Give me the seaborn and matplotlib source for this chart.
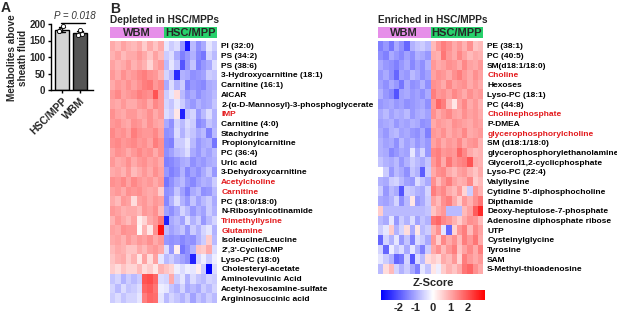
import numpy as np
import pandas as pd
import matplotlib
matplotlib.use("Agg")
import matplotlib.pyplot as plt
import seaborn as sns
from matplotlib.colors import ListedColormap

sns.set_theme(style="white")
plt.rcParams['font.family'] = ['Liberation Sans', 'DejaVu Sans']
plt.rcParams['font.weight'] = 'bold'
plt.rcParams['axes.unicode_minus'] = False

# ---------------- data ----------------
groups_A = ["HSC/MPP", "WBM"]
hsc_points = [193, 181, 178, 180]
wbm_points = [183, 171, 167, 170]
p_text = "P = 0.018"

group_labels = ["WBM", "HSC/MPP"]
n_wbm = 10
n_hsc = 10

depleted_rows = ["PI (32:0)", "PS (34:2)", "PS (38:6)", "3-Hydroxycarnitine (18:1)",
                 "Carnitine (16:1)", "AICAR", "2-(α-D-Mannosyl)-3-phosphoglycerate", "IMP",
                 "Carnitine (4:0)", "Stachydrine", "Propionylcarnitine", "PC (36:4)",
                 "Uric acid", "3-Dehydroxycarnitine", "Acetylcholine", "Carnitine",
                 "PC (18:0/18:0)", "N-Ribosylnicotinamide", "Trimethyllysine", "Glutamine",
                 "Isoleucine/Leucine", "2',3'-CyclicCMP", "Lyso-PC (18:0)", "Cholesteryl-acetate",
                 "Aminolevulinic Acid", "Acetyl-hexosamine-sulfate", "Argininosuccinic acid"]
depleted_red = ["IMP", "Acetylcholine", "Carnitine", "Trimethyllysine", "Glutamine"]

depleted_values = [
    [1.0, 0.8, 1.1, 0.9, 0.8, 1.0, 0.6, 1.0, 0.7, 1.0, -0.3, -0.6, -0.4, -1.2, -2.8, -0.8, -1.3, -1.0, -0.3, -0.6],
    [0.9, 1.1, 0.8, 1.0, 1.0, 1.2, 1.0, 0.7, 1.1, 0.8, -0.6, -0.4, -1.0, -1.5, -1.2, -0.9, -1.4, -1.6, -0.5, -0.8],
    [1.1, 0.9, 1.0, 1.2, 0.9, 1.1, 0.9, 0.5, 1.0, 1.2, -0.8, -0.3, -0.7, -2.0, -1.2, -0.7, -1.5, -1.2, -1.0, -0.4],
    [1.2, 1.0, 1.3, 1.1, 1.2, 1.4, 1.5, 1.3, 1.2, 0.9, -0.5, -0.8, -2.5, -0.9, -1.0, -1.3, -1.2, -1.1, -0.6, -0.7],
    [1.0, 1.2, 1.1, 1.3, 1.1, 1.3, 1.5, 1.6, 1.2, 1.4, -1.0, -0.4, -0.9, -0.6, -1.5, -1.2, -1.3, -1.4, -1.0, -0.9],
    [1.2, 1.4, 1.1, 1.2, 1.3, 1.5, 1.4, 1.3, 2.0, 1.2, -0.6, -0.3, 0.4, -0.8, -1.2, -1.0, -1.3, -1.1, -1.0, -0.8],
    [1.1, 1.0, 1.2, 1.0, 1.0, 1.2, 1.3, 1.0, 1.4, 1.2, -0.5, -0.7, -0.3, -0.6, -1.0, -1.2, -0.9, -1.1, -1.0, -0.7],
    [1.3, 1.1, 1.0, 1.2, 1.2, 1.0, 1.1, 1.3, 1.0, 1.2, -0.4, -0.6, 0.3, -2.6, -0.7, -0.5, -1.2, -0.8, -0.4, -0.9],
    [1.2, 1.3, 1.1, 1.0, 1.3, 1.2, 1.0, 1.3, 1.1, 1.0, -1.0, -1.3, -0.5, -0.8, -0.4, -0.6, -1.4, -1.2, -0.7, -0.9],
    [1.4, 1.2, 1.3, 1.1, 1.5, 1.3, 1.2, 1.2, 1.4, 1.1, -1.3, -1.2, -0.4, -0.9, -0.5, -0.7, -1.0, -0.8, -1.5, -0.8],
    [1.3, 1.4, 1.2, 1.3, 1.4, 1.2, 1.3, 1.1, 1.5, 1.3, -1.4, -1.5, -0.6, -0.6, -0.3, -0.8, -1.2, -1.0, -0.9, -1.6],
    [1.1, 1.3, 1.2, 1.0, 1.2, 1.4, 1.2, 1.3, 1.0, 1.3, -1.3, -1.1, -0.8, -0.7, -0.4, -1.0, -1.2, -0.9, -1.1, -0.8],
    [1.2, 1.0, 1.1, 1.3, 1.0, 1.2, 1.3, 1.1, 1.2, 1.0, -1.5, -1.4, -1.2, -1.0, -0.9, -1.3, -1.1, -1.2, -1.0, -0.9],
    [1.0, 1.1, 0.9, 1.2, 0.8, 1.0, 1.2, 1.0, 1.3, 1.1, -1.2, -1.5, -1.3, -0.9, -1.4, -1.1, -1.3, -1.0, -0.7, -1.2],
    [1.3, 1.2, 1.4, 1.1, 1.4, 1.2, 1.1, 1.2, 1.0, 1.2, -1.6, -1.3, -1.0, -0.8, -1.2, -1.4, -1.1, -0.9, -1.0, -0.6],
    [1.1, 1.2, 1.0, 1.3, 1.2, 1.3, 1.1, 1.0, 1.1, 0.6, -1.3, -1.2, -0.7, -1.1, -1.5, -1.0, -0.8, -1.3, -1.2, -0.8],
    [1.0, 0.8, 1.2, 1.1, 0.4, 1.1, 1.2, 1.0, 1.2, 1.1, -1.4, -0.9, -0.4, -0.9, -1.2, -0.7, -1.1, -0.8, -0.6, -1.0],
    [1.2, 1.1, 0.9, 1.0, 1.0, 0.8, 1.2, 1.1, 1.3, 0.8, -1.1, -1.3, -1.0, -0.5, -0.8, -1.2, -0.9, -1.1, -0.6, -0.9],
    [0.9, 1.2, 1.0, 0.8, 1.1, 0.2, 0.5, 1.0, 1.2, 1.6, -2.6, -1.0, -0.8, -1.1, -0.4, -0.9, -0.6, -1.2, -0.8, -0.5],
    [1.1, 1.0, 1.3, 1.2, 1.2, 0.1, 0.9, 0.3, 1.3, 2.8, -0.8, -1.1, -0.9, -0.7, -1.2, -0.6, -0.9, -0.5, -0.3, -0.9],
    [1.0, 1.1, 0.9, 1.2, 1.0, 1.2, 1.1, 1.3, 1.0, 1.2, -1.2, -1.3, -1.2, -1.4, -1.2, -1.3, -0.9, -0.6, 0.6, -0.8],
    [0.8, 1.0, 0.9, 0.7, 0.7, 1.0, 0.8, 1.1, 1.2, 1.0, -0.4, -1.2, 0.2, -1.6, -1.3, -0.9, 0.7, 0.6, 1.0, -0.4],
    [0.7, 0.9, 1.0, 0.6, 0.9, 0.3, 1.1, 0.4, 1.1, -0.3, -0.8, -0.6, -0.9, -1.1, -1.3, -2.6, -0.5, -0.2, -0.6, -0.2],
    [0.6, 0.4, 0.7, 0.5, 0.5, 0.8, 0.4, 0.6, 0.3, 0.9, 0.7, 0.5, -0.2, -0.4, -0.2, -0.3, 0.2, -0.6, -3.0, -0.4],
    [-0.7, -0.5, -0.9, -0.6, -0.8, -0.6, 2.0, 2.1, 1.8, -0.4, -0.5, 1.0, -0.6, -0.3, -0.9, -0.4, -0.7, -0.8, -0.5, -0.6],
    [-0.5, -0.8, -0.4, -0.7, -0.6, -0.4, 1.8, 1.9, 1.6, -0.2, -0.3, -0.7, -0.9, -0.5, -1.0, -0.8, -1.0, -0.6, -0.8, -0.5],
    [-0.6, -0.4, -0.7, -0.5, -0.5, -0.3, 1.5, 1.8, 1.7, -0.3, -0.8, -0.5, -0.7, -0.9, -0.6, -1.1, -0.7, -0.9, -0.6, -0.8],
]

enriched_rows = ["PE (38:1)", "PC (40:5)", "SM(d18:1/18:0)", "Choline", "Hexoses", "Lyso-PC (18:1)",
                 "PC (44:8)", "Cholinephosphate", "P-DMEA", "glycerophosphorylcholine",
                 "SM (d18:1/18:0)", "glycerophosphorylethanolamine", "Glycerol1,2-cyclicphosphate",
                 "Lyso-PC (22:4)", "Valyllysine", "Cytidine 5'-diphosphocholine", "Dipthamide",
                 "Deoxy-heptulose-7-phosphate", "Adenosine diphosphate ribose", "UTP",
                 "Cysteinylglycine", "Tyrosine", "SAM", "S-Methyl-thioadenosine"]
enriched_red = ["Choline", "Cholinephosphate", "glycerophosphorylcholine"]

enriched_values = [
    [-1.5, -1.2, -1.6, -1.0, -1.3, -1.8, -0.9, -0.7, -0.6, -0.8, 0.8, 1.2, 1.5, 1.3, 1.0, 1.2, 0.9, 1.3, 0.7, 0.8],
    [-1.3, -1.5, -1.0, -1.2, -1.4, -1.1, -1.3, -0.9, -1.0, -1.2, 1.0, 0.9, 1.6, 1.2, 1.0, 1.4, 1.1, 0.8, 1.0, 0.9],
    [-1.0, -1.2, -1.3, -1.5, -1.2, -1.0, -1.4, -1.1, -1.3, -0.9, 1.2, 1.0, 1.1, 1.3, 1.2, 1.0, 1.4, 1.1, 1.0, 1.2],
    [-1.2, -1.0, -1.3, -1.8, -1.1, -1.2, -0.8, -1.0, -1.3, -1.1, 1.1, 1.3, 1.2, 1.0, 1.3, 1.5, 1.2, 1.0, 1.3, 1.1],
    [-1.1, -1.3, -1.0, -1.2, -1.6, -1.0, -1.3, -1.2, -0.9, -1.3, 1.3, 1.2, 1.0, 1.4, 1.1, 1.2, 1.3, 1.0, 1.2, 1.0],
    [-0.9, -1.2, -1.4, -2.0, -1.1, -1.0, -1.2, -1.1, -1.3, -1.0, 1.5, 1.2, 1.3, 1.1, 1.4, 1.2, 1.0, 1.3, 1.1, 1.2],
    [-1.2, -1.1, -1.0, -1.2, -1.1, -1.3, -1.2, -1.1, -1.0, -1.3, 1.2, 1.8, 1.5, 0.8, 0.3, 1.1, 1.4, 1.0, 1.2, 0.9],
    [-1.0, -0.8, -1.1, -0.9, -1.0, -0.8, -1.2, -1.0, -0.9, -1.1, 1.3, 1.0, 1.2, 1.4, 1.1, 1.0, 1.3, 1.1, 1.2, 1.0],
    [-1.1, -1.0, -0.9, -1.2, -1.0, -1.1, -0.9, -1.0, -1.3, -1.2, 1.0, 1.2, 1.1, 1.0, 1.3, 1.2, 1.1, 1.0, 1.2, 1.1],
    [-1.0, -1.2, -0.9, -0.8, -1.1, -1.0, -1.2, -1.3, -1.0, -1.5, 1.2, 1.1, 1.3, 1.0, 1.2, 1.1, 1.4, 1.0, 1.1, 1.2],
    [-0.9, -1.1, -1.0, -1.3, -0.8, -1.1, -0.9, -1.2, -1.0, -1.2, 1.1, 1.3, 1.0, 1.2, 1.1, 1.4, 1.0, 1.2, 1.3, 0.9],
    [-0.9, -1.0, -1.4, -1.2, -1.0, -1.1, -0.3, -1.0, -0.5, -1.2, 1.4, 1.5, 1.2, 1.3, 1.2, 1.8, 1.4, 1.0, 0.8, 0.9],
    [-0.7, -0.9, -1.0, -0.8, -1.2, -0.9, -0.6, -0.8, -1.0, -0.7, 1.2, 1.5, 1.0, 1.6, 1.2, 1.4, 1.5, 2.0, 1.0, 0.9],
    [0.0, -0.6, -1.2, -0.8, -1.0, -1.3, -0.7, -0.9, -1.9, -0.6, 1.0, 1.3, 1.4, 1.0, 0.8, 1.1, 1.2, 0.9, 0.7, 1.0],
    [-0.9, -1.0, -0.6, -0.5, -0.8, -1.1, -1.2, -0.4, -0.7, -1.0, 1.3, 0.8, 1.2, 1.5, 1.1, 0.9, 1.0, 1.4, 0.6, 0.8],
    [-0.6, -1.2, -0.8, -1.0, -2.0, -0.6, -0.7, -0.9, -1.0, -0.5, 1.5, 1.2, 1.4, 1.0, 0.8, 1.2, 0.5, -0.6, 1.2, 0.9],
    [-1.0, -1.1, -0.9, -0.5, -1.3, -0.8, 0.3, -1.2, -1.0, -0.6, 1.1, 0.8, 1.3, 1.5, 1.0, 0.6, 1.2, 0.9, 1.3, 1.6],
    [0.6, -0.8, -0.8, -0.8, -0.8, -0.8, -0.8, -0.8, -0.8, -0.7, 0.7, 1.0, 1.2, -0.8, -0.8, -0.8, 0.8, 1.1, 1.9, 2.5],
    [-0.8, -1.0, -0.3, -1.2, -0.6, -0.9, -0.4, -1.1, -0.7, -0.9, 1.6, 1.8, 1.4, 1.2, 0.9, 0.6, 1.0, 1.3, 1.2, 0.8],
    [-0.6, -0.3, 0.6, -0.9, -0.5, 0.4, -1.0, 0.3, -0.8, -0.6, 0.9, 1.3, -0.3, -1.8, 0.5, 1.2, 1.5, 0.8, 1.4, 1.1],
    [-1.8, -0.5, -0.9, -0.3, -1.2, -0.7, -1.5, -0.4, -0.6, -1.0, 1.2, 0.6, 1.4, 1.0, 1.3, 0.8, 1.5, 1.2, 1.6, 1.0],
    [-0.5, -1.8, -0.2, -0.7, -0.4, -1.0, -0.3, -0.9, -1.5, -0.6, 1.0, 1.3, 0.8, 1.2, 1.5, 0.7, 1.1, 1.4, 1.0, 1.5],
    [-0.3, -0.6, -0.9, -1.8, -1.6, -0.5, -2.0, -0.4, -0.8, 0.4, 0.6, 0.4, 1.0, 0.8, 1.2, 0.5, 1.5, 1.2, 1.0, 1.2],
    [-0.8, 0.4, 0.8, -0.5, -0.9, -0.6, -1.0, -1.5, -0.3, -0.7, 0.3, -0.2, 0.6, 0.9, 0.7, 1.0, 1.6, 1.8, 1.3, 1.0],
]
zscore_ticks = [-2, -1, 0, 1, 2]

# ---------------- figure ----------------
W, H = 617, 313
fig = plt.figure(figsize=(W / 100, H / 100), dpi=100)


def px_axes(x0, y0, x1, y1):
    return fig.add_axes([x0 / W, 1 - y1 / H, (x1 - x0) / W, (y1 - y0) / H])


RED = "#e3191c"
VIOLET = "#e68ee9"
GREEN = "#27d06b"

# ---- Panel A ----
dfA = pd.DataFrame({
    "group": [groups_A[0]] * len(hsc_points) + [groups_A[1]] * len(wbm_points),
    "value": hsc_points + wbm_points,
})
axA = px_axes(51, 24, 93, 90)
sns.barplot(data=dfA, x="group", y="value", hue="group", order=groups_A,
            palette={groups_A[0]: "#d4d4d4", groups_A[1]: "#555555"},
            errorbar="sd", capsize=0.35, err_kws={"linewidth": 1.0, "color": "black"},
            edgecolor="black", linewidth=1.0, width=0.75, ax=axA, legend=False)
sns.stripplot(data=dfA, x="group", y="value", order=groups_A, color="white",
              edgecolor="black", linewidth=0.6, size=3, jitter=0.2, ax=axA)
axA.set_ylim(0, 200)
axA.set_yticks([0, 50, 100, 150, 200])
axA.set_xlim(-0.62, 1.72)
axA.set_xlabel("")
axA.set_ylabel("")
for s in ["top", "right"]:
    axA.spines[s].set_visible(False)
for s in ["left", "bottom"]:
    axA.spines[s].set_color("black")
    axA.spines[s].set_linewidth(1.0)
axA.tick_params(axis="both", length=2.5, width=1, color="black", labelsize=7, pad=1.5, left=True, bottom=True)
axA.set_xticks([0, 1])
axA.set_xticklabels(groups_A, rotation=45, ha="right", rotation_mode="anchor", fontsize=7.5, fontweight="bold")
for lab in axA.get_yticklabels():
    lab.set_fontweight("bold")
axA.plot([-0.05, 1.25], [203, 203], color="black", lw=1, clip_on=False)
axA.text(0.7, 208, p_text, ha="center", va="bottom", fontsize=7, style="italic",
         fontweight="normal", color="#333333", clip_on=False)
fig.text(17.5 / W, 1 - 58 / H, "Metabolites above\nsheath fluid", rotation=90, ha="center", va="center",
         fontsize=7.2, fontweight="bold", linespacing=1.05)
fig.text(1 / W, 1 - 1 / H, "A", fontsize=10, fontweight="bold", va="top", ha="left")

# ---- Panel B ----
fig.text(110 / W, 1 - 2 / H, "B", fontsize=10, fontweight="bold", va="top", ha="left")
cmap = "bwr"


def draw_block(x0, x1, top, row_h, values, rows, red_rows, title, cbar_ax=None):
    y1 = top + row_h * len(rows)
    df = pd.DataFrame(values, index=rows)
    ax = px_axes(x0, top, x1, y1)
    kws = dict(cmap=cmap, vmin=-3, vmax=3, xticklabels=False, yticklabels=True, ax=ax)
    if cbar_ax is not None:
        sns.heatmap(df, cbar=True, cbar_ax=cbar_ax,
                    cbar_kws={"orientation": "horizontal", "ticks": zscore_ticks}, **kws)
    else:
        sns.heatmap(df, cbar=False, **kws)
    ax.yaxis.tick_right()
    ax.tick_params(axis="y", length=0, pad=3, labelsize=6.0, labelrotation=0)
    for lab in ax.get_yticklabels():
        lab.set_fontweight("bold")
        lab.set_color(RED if lab.get_text() in red_rows else "black")
    ax.set_ylabel("")
    # group header
    axh = px_axes(x0, 27, x1, 38)
    hdr = np.array([[0] * n_wbm + [1] * n_hsc])
    sns.heatmap(hdr, cmap=ListedColormap([VIOLET, GREEN]), cbar=False,
                xticklabels=False, yticklabels=False, ax=axh)
    axh.text(n_wbm / 2, 0.55, group_labels[0], ha="center", va="center", fontsize=8, fontweight="bold")
    axh.text(n_wbm + n_hsc / 2, 0.55, group_labels[1], ha="center", va="center", fontsize=8, fontweight="bold")
    fig.text(x0 / W, 1 - 20 / H, title, fontsize=7.3, fontweight="bold", va="center", ha="left")
    return ax


draw_block(110, 217, 41, 9.7, depleted_values, depleted_rows, depleted_red, "Depleted in HSC/MPPs")
axC = px_axes(381, 290, 485, 300)
draw_block(378, 483, 41, 9.7, enriched_values, enriched_rows, enriched_red, "Enriched in HSC/MPPs", cbar_ax=axC)
axC.set_title("Z-Score", fontsize=8, fontweight="bold", pad=3)
axC.tick_params(axis="x", length=0, labelsize=8, pad=2)
for lab in axC.get_xticklabels():
    lab.set_fontweight("bold")
for sp in axC.spines.values():
    sp.set_visible(False)

fig.savefig("out.png", dpi=100)
